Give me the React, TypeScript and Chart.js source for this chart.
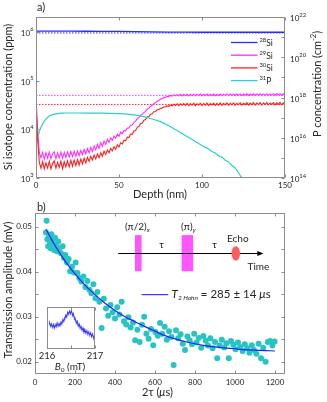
import React, { useEffect, useRef } from "react";
import { Chart, registerables } from "chart.js";

Chart.register(...registerables);

const FAMILY = "Lato, 'Open Sans', 'DejaVu Sans', sans-serif";
const f = (size: number, style = "") => `${style} ${size}px ${FAMILY}`.trim();
const TEXT = "#262626";
const FRAME = "#8c8c8c";

// ---------------- Panel a data ----------------
const depthNm = Array.from({ length: 151 }, (_, i) => i);
const depthTicks = [0, 50, 100, 150];

const si29 = [
  52000, 9500, 3300, 2600, 3350, 2450, 3300, 2550, 3400, 2500,
  3200, 3450, 2500, 3300, 2600, 3400, 2550, 3350, 2650, 3450,
  2700, 3500, 2750, 3550, 2800, 3600, 2900, 3700, 3000, 3850,
  3150, 4000, 3300, 4250, 3500, 4550, 3800, 4900, 4100, 5300,
  4450, 5700, 4900, 6200, 5400, 6700, 6000, 7300, 6600, 8000,
  7200, 8700, 8100, 9500, 9300, 10600, 10700, 12100, 12300, 13900,
  14800, 16600, 17400, 19500, 20300, 22000, 23500, 26000, 27300, 30000,
  31200, 34000, 35000, 38000, 39000, 42000, 42800, 45600, 45500, 48000,
  47200, 49800, 48000, 51200, 48900, 52300, 48800, 52600, 49000, 52400,
  49300, 52800, 48700, 52500, 49400, 52900, 49000, 52700, 49500, 53000,
  49100, 52600, 49600, 53100, 49200, 52800, 49700, 53200, 49300, 52900,
  49800, 53300, 49400, 53000, 49900, 53400, 49500, 53100, 50000, 53500,
  49600, 53200, 50100, 53600, 49700, 53300, 50200, 53700, 49800, 53400,
  50300, 53800, 49900, 53500, 50400, 53900, 50000, 53600, 50500, 54000,
  50100, 53700, 50600, 54100, 50200, 53800, 50700, 54200, 50300, 53900,
  51000,
];

const si30 = [
  34000, 6000, 2100, 1600, 2150, 1550, 2050, 1600, 2200, 1550,
  2000, 2250, 1600, 2100, 1650, 2200, 1550, 2150, 1700, 2250,
  1700, 2300, 1750, 2350, 1800, 2400, 1850, 2450, 1950, 2550,
  2050, 2650, 2200, 2800, 2350, 2950, 2450, 3100, 2600, 3300,
  2800, 3550, 3050, 3750, 3300, 4050, 3600, 4400, 3900, 4800,
  4350, 5300, 5000, 6000, 5800, 6900, 6800, 8000, 7900, 9300,
  9500, 11000, 11400, 13100, 13500, 15400, 15900, 17900, 18400, 20400,
  20800, 23000, 23300, 25200, 25500, 27200, 27300, 28900, 28800, 30300,
  29800, 31600, 30500, 32800, 30900, 33500, 30700, 33600, 31200, 33900,
  31000, 34200, 30800, 33900, 31500, 34500, 30600, 33700, 31800, 34300,
  30900, 34000, 31400, 34600, 30800, 33800, 31700, 34700, 31000, 34100,
  31500, 34800, 31100, 34200, 31800, 34900, 31200, 34300, 31900, 35000,
  31300, 34400, 32000, 35100, 31400, 34500, 32100, 35200, 31500, 34600,
  32200, 35300, 31600, 34700, 32300, 35400, 31700, 34800, 32400, 35500,
  31800, 34900, 32500, 35600, 31900, 35000, 32600, 35700, 32000, 35100,
  32700,
];

const si28Depth = [0, 10, 20, 30, 40, 50, 60, 70, 80, 90, 100, 110, 120, 130, 140, 150];
const si28 = [
  1.05e6, 1.05e6, 1.045e6, 1.04e6, 1.035e6, 1.03e6, 1.02e6, 1.01e6, 1.0e6, 0.995e6,
  0.99e6, 0.99e6, 0.99e6, 0.99e6, 0.99e6, 0.99e6,
];

// natural-abundance reference levels (ppm), dotted
const naturalLevels = [960000, 50000, 32500];

const p31Depth = [
  1.5, 2, 3, 4, 5, 6, 7, 8, 9, 10, 12, 14, 16, 18, 20, 25, 30, 35, 40, 45, 50, 55, 60, 65,
  70, 75, 80, 85, 90, 95, 100, 102, 104, 106, 108, 110, 112, 114, 116, 118, 120, 122, 124, 126,
];
const p31 = [
  1.32e16, 2.0e16, 3.31e16, 4.79e16, 6.61e16, 8.51e16, 1.02e17, 1.2e17, 1.32e17, 1.41e17,
  1.55e17, 1.62e17, 1.66e17, 1.7e17, 1.7e17, 1.7e17, 1.66e17, 1.66e17, 1.66e17, 1.62e17,
  1.58e17, 1.48e17, 1.32e17, 1.12e17, 8.51e16, 6.31e16, 3.98e16, 2.29e16, 1.29e16, 7.24e15,
  4.17e15, 3.31e15, 2.75e15, 2.09e15, 1.74e15, 1.26e15, 1.1e15, 7.59e14, 6.31e14, 4.17e14,
  3.16e14, 1.82e14, 1.0e14, 6.0e13,
];

const isoMass = ["28", "29", "30", "31"];
const isoElem = ["Si", "Si", "Si", "P"];
const isoColors = ["#2b2bff", "#ff30ff", "#ff2020", "#2ccfcf"];

const leftDecades = [3, 4, 5, 6];
const rightDecades = [14, 15, 16, 17, 18, 19, 20, 21, 22];
const rightLabelled = [14, 16, 18, 20, 22];

// ---------------- Panel b data ----------------
const tauTicks = [0, 200, 400, 600, 800, 1000, 1200];
const ampTicks = [0.02, 0.025, 0.03, 0.035, 0.04, 0.045, 0.05];

const echoPoints: [number, number][] = [
  [55, 0.0487], [58, 0.0513], [62, 0.0472], [66, 0.0456], [70, 0.0478], [74, 0.0466],
  [78, 0.0452], [82, 0.0483], [86, 0.047], [90, 0.0461], [95, 0.0448], [100, 0.0475],
  [105, 0.0458], [110, 0.0445], [116, 0.0467], [122, 0.0452], [130, 0.0441], [138, 0.0456],
  [145, 0.043], [152, 0.0437], [160, 0.042], [168, 0.0428], [176, 0.0401], [185, 0.0411],
  [194, 0.0398], [203, 0.042], [212, 0.0397], [222, 0.0386], [232, 0.0378], [242, 0.0389],
  [252, 0.0366], [262, 0.0379], [272, 0.036], [282, 0.0352], [292, 0.0372], [302, 0.0341],
  [312, 0.0355], [322, 0.0333], [333, 0.0275], [344, 0.034], [355, 0.0318], [366, 0.0302],
  [377, 0.0326], [388, 0.031], [400, 0.0296], [411, 0.0321], [422, 0.0305], [433, 0.0333],
  [445, 0.029], [456, 0.0283], [467, 0.0299], [478, 0.0276], [490, 0.0287], [501, 0.0248],
  [512, 0.0271], [523, 0.0244], [535, 0.0282], [546, 0.03], [557, 0.0262], [568, 0.0251],
  [580, 0.0273], [591, 0.0237], [602, 0.0266], [614, 0.0258], [625, 0.0286], [636, 0.0262],
  [648, 0.0278], [659, 0.0249], [670, 0.0268], [682, 0.0255], [693, 0.0193], [705, 0.027],
  [716, 0.0252], [728, 0.0261], [739, 0.024], [750, 0.0226], [762, 0.0256], [773, 0.0248],
  [785, 0.0239], [796, 0.0262], [808, 0.0243], [819, 0.0253], [831, 0.0231], [842, 0.0257],
  [854, 0.0247], [865, 0.0236], [877, 0.0252], [888, 0.023], [900, 0.0244], [911, 0.0208],
  [923, 0.0236], [934, 0.0249], [946, 0.0232], [957, 0.0241], [969, 0.0208], [980, 0.0246],
  [992, 0.0238], [1003, 0.0228], [1015, 0.0243], [1026, 0.0233], [1038, 0.0224], [1049, 0.0239],
  [1061, 0.023], [1072, 0.022], [1084, 0.0237], [1095, 0.0226], [1107, 0.0218], [1118, 0.024],
  [1130, 0.0208], [1141, 0.0231], [1153, 0.02], [1164, 0.0244], [1176, 0.0246], [1187, 0.0236],
  [1198, 0.0245],
];

const fitX = [55, 100, 150, 200, 250, 300, 350, 400, 450, 500, 550, 600, 650, 700, 750, 800, 850, 900, 950, 1000, 1050, 1100, 1150, 1200];
const fitY = [
  0.0494, 0.0458, 0.0424, 0.0395, 0.037, 0.0349, 0.033, 0.0314, 0.03, 0.0289, 0.0278, 0.0268,
  0.0258, 0.0251, 0.0245, 0.024, 0.0236, 0.0233, 0.0231, 0.0229, 0.0227, 0.0226, 0.0225, 0.0224,
];

// pulse-sequence sketch, in the panel's own (2tau, amplitude) units
const pulseSpans: [number, number][] = [[500, 533], [733, 791]];
const pulseLevels = [0.0401, 0.0481];
const timeAxisSpan = [416, 1142];
const timeAxisLevel = 0.04405;
const echoAt = 1004;

// inset: ESR line vs B0 (mT), arbitrary units
const insetTicks = [216, 216.5, 217];
const insetLine: [number, number][] = [
  [216.05, 0.62], [216.07, 0.55], [216.09, 0.58], [216.11, 0.52], [216.13, 0.57], [216.15, 0.5],
  [216.17, 0.56], [216.19, 0.53], [216.21, 0.6], [216.23, 0.55], [216.25, 0.58], [216.27, 0.56],
  [216.29, 0.62], [216.31, 0.6], [216.33, 0.68], [216.35, 0.66], [216.37, 0.72], [216.39, 0.78],
  [216.41, 0.76], [216.43, 0.85], [216.45, 0.83], [216.47, 0.88], [216.49, 0.84], [216.51, 0.9],
  [216.53, 0.8], [216.55, 0.82], [216.57, 0.72], [216.59, 0.7], [216.61, 0.62], [216.63, 0.64],
  [216.65, 0.55], [216.67, 0.58], [216.69, 0.5], [216.71, 0.52], [216.73, 0.45], [216.75, 0.48],
  [216.77, 0.4], [216.79, 0.44], [216.81, 0.38], [216.83, 0.42], [216.85, 0.36], [216.87, 0.39],
  [216.89, 0.33], [216.91, 0.37], [216.93, 0.3], [216.95, 0.34], [216.97, 0.26], [216.99, 0.3],
];

// ---------------- helpers ----------------
type Run = { t: string; font: string; dy?: number };

function drawRuns(
  ctx: CanvasRenderingContext2D,
  runs: Run[],
  x: number,
  y: number,
  align: "left" | "center" | "right" = "left",
  rot = 0,
  color = TEXT
) {
  ctx.save();
  ctx.translate(x, y);
  if (rot) ctx.rotate(rot);
  ctx.fillStyle = color;
  ctx.textBaseline = "middle";
  ctx.textAlign = "left";
  const ws = runs.map((r) => {
    ctx.font = r.font;
    return ctx.measureText(r.t).width;
  });
  const total = ws.reduce((a, b) => a + b, 0);
  let cx = align === "left" ? 0 : align === "center" ? -total / 2 : -total;
  runs.forEach((r, i) => {
    ctx.font = r.font;
    ctx.fillText(r.t, cx, r.dy || 0);
    cx += ws[i];
  });
  ctx.restore();
}

type Marks = { axis: string; values: number[]; sides: ("top" | "bottom" | "left" | "right")[]; len?: number };

function framePlugin(marks: Marks[], fill?: string) {
  return {
    id: "frame",
    beforeDatasetsDraw(chart: any) {
      if (!fill) return;
      const { ctx, chartArea: a } = chart;
      ctx.save();
      ctx.fillStyle = fill;
      ctx.fillRect(a.left, a.top, a.width, a.height);
      ctx.restore();
    },
    afterDatasetsDraw(chart: any) {
      const { ctx, chartArea: a } = chart;
      ctx.save();
      ctx.strokeStyle = FRAME;
      ctx.lineWidth = 1;
      const L = Math.round(a.left) + 0.5;
      const T = Math.round(a.top) + 0.5;
      const R = Math.round(a.right) - 0.5;
      const B = Math.round(a.bottom) - 0.5;
      ctx.strokeRect(L, T, R - L, B - T);
      marks.forEach((m) => {
        const s = chart.scales[m.axis];
        const len = m.len ?? 3;
        ctx.beginPath();
        m.values.forEach((v) => {
          const p = Math.round(s.getPixelForValue(v)) + 0.5;
          m.sides.forEach((side) => {
            if (side === "bottom") { ctx.moveTo(p, B); ctx.lineTo(p, B - len); }
            if (side === "top") { ctx.moveTo(p, T); ctx.lineTo(p, T + len); }
            if (side === "left") { ctx.moveTo(L, p); ctx.lineTo(L + len, p); }
            if (side === "right") { ctx.moveTo(R, p); ctx.lineTo(R - len, p); }
          });
        });
        ctx.stroke();
      });
      ctx.restore();
    },
  };
}

const setTicks = (vals: number[]) => (s: any) => {
  s.ticks = vals.map((v) => ({ value: v }));
};

const noGrid = { display: false, drawTicks: false };
const noBorder = { display: false };

// ---------------- chart a ----------------
function makeChartA(canvas: HTMLCanvasElement) {
  const extras = {
    id: "aExtras",
    afterDraw(chart: any) {
      const { ctx, chartArea: a, scales } = chart;
      leftDecades.forEach((e) => {
        const y = scales.y.getPixelForValue(Math.pow(10, e));
        drawRuns(ctx, [{ t: "10", font: f(8) }, { t: String(e), font: f(5.8), dy: -3.8 }], a.left - 2.5, y + 1.3, "right");
      });
      rightLabelled.forEach((e) => {
        const y = scales.y2.getPixelForValue(Math.pow(10, e));
        drawRuns(ctx, [{ t: "10", font: f(8) }, { t: String(e), font: f(5.8), dy: -3.8 }], a.right + 5, y + 1.8, "left");
      });
      // legend
      isoMass.forEach((m, i) => {
        const y = a.top + 25.5 + i * 12.7;
        ctx.save();
        ctx.strokeStyle = isoColors[i];
        ctx.lineWidth = 1.3;
        ctx.beginPath();
        ctx.moveTo(a.right - 54, y);
        ctx.lineTo(a.right - 27.5, y);
        ctx.stroke();
        ctx.restore();
        drawRuns(ctx, [{ t: m, font: f(5.8), dy: -2.4 }, { t: isoElem[i], font: f(8.5), dy: 0.6 }], a.right - 25.5, y, "left");
      });
      // titles
      drawRuns(ctx, [{ t: "a)", font: f(11) }], 37, 7.5, "left");
      drawRuns(ctx, [{ t: "Si isotope concentration (ppm)", font: f(11) }], 8.5, 97, "center", -Math.PI / 2);
      drawRuns(
        ctx,
        [{ t: "P concentration (cm", font: f(11) }, { t: "-2", font: f(7.5), dy: -3.5 }, { t: ")", font: f(11) }],
        317,
        84,
        "center",
        -Math.PI / 2
      );
      drawRuns(ctx, [{ t: "Depth (nm)", font: f(11) }], 160, 194.5, "center");
    },
  };

  const solid = (i: number, data: { x: number; y: number }[], axis: string, order: number, width = 1.2) => ({
    label: isoMass[i] + isoElem[i],
    data,
    borderColor: isoColors[i],
    borderWidth: width,
    pointRadius: 0,
    yAxisID: axis,
    order,
  });
  const dotted = (i: number, level: number) => ({
    label: "nat" + isoMass[i],
    data: [{ x: 0, y: level }, { x: 150, y: level }],
    borderColor: isoColors[i],
    borderWidth: 1,
    borderDash: [1.5, 1.5],
    pointRadius: 0,
    yAxisID: "y",
    order: 10 + i,
  });

  return new Chart(canvas, {
    type: "line",
    data: {
      datasets: [
        solid(0, si28Depth.map((x, i) => ({ x, y: si28[i] })), "y", 1, 1.3),
        solid(1, depthNm.map((x, i) => ({ x, y: si29[i] })), "y", 3, 1.1),
        solid(2, depthNm.map((x, i) => ({ x, y: si30[i] })), "y", 2, 1.1),
        solid(3, p31Depth.map((x, i) => ({ x, y: p31[i] })), "y2", 0, 1.2),
        dotted(0, naturalLevels[0]),
        dotted(1, naturalLevels[1]),
        dotted(2, naturalLevels[2]),
      ] as any,
    },
    options: {
      responsive: false,
      animation: false,
      devicePixelRatio: 1,
      layout: { padding: { top: 17, left: 0, right: 0, bottom: 0 } },
      plugins: { legend: { display: false }, tooltip: { enabled: false } },
      elements: { line: { tension: 0 } },
      scales: {
        x: {
          type: "linear",
          min: 0,
          max: 150,
          grid: noGrid,
          border: noBorder,
          ticks: { font: { family: FAMILY, size: 8 }, color: TEXT, padding: 2.5, maxRotation: 0, autoSkip: false, callback: (v: any) => String(v) },
          afterBuildTicks: setTicks(depthTicks),
          afterFit: (s: any) => { s.height = 22; },
        },
        y: {
          type: "logarithmic",
          position: "left",
          min: 1e3,
          max: 2.04e6,
          grid: noGrid,
          border: noBorder,
          ticks: { callback: () => "", padding: 0 },
          afterBuildTicks: setTicks(leftDecades.map((e) => Math.pow(10, e))),
          afterFit: (s: any) => { s.width = 36; },
        },
        y2: {
          type: "logarithmic",
          position: "right",
          min: 1e14,
          max: 1e22,
          grid: noGrid,
          border: noBorder,
          ticks: { callback: () => "", padding: 0 },
          afterBuildTicks: setTicks(rightDecades.map((e) => Math.pow(10, e))),
          afterFit: (s: any) => { s.width = 42; },
        },
      } as any,
    },
    plugins: [
      framePlugin([
        { axis: "x", values: depthTicks, sides: ["bottom", "top"] },
        { axis: "y", values: leftDecades.map((e) => Math.pow(10, e)), sides: ["left"] },
        { axis: "y2", values: rightDecades.map((e) => Math.pow(10, e)), sides: ["right"] },
      ]),
      extras,
    ],
  } as any);
}

// ---------------- chart b ----------------
function makeChartB(canvas: HTMLCanvasElement) {
  const extras = {
    id: "bExtras",
    afterDraw(chart: any) {
      const { ctx, scales } = chart;
      const X = (v: number) => scales.x.getPixelForValue(v);
      const Y = (v: number) => scales.y.getPixelForValue(v);
      // titles
      drawRuns(ctx, [{ t: "b)", font: f(11) }], 37, 7, "left");
      drawRuns(ctx, [{ t: "Transmission amplitude (mV)", font: f(11) }], 8.5, 90, "center", -Math.PI / 2);
      drawRuns(
        ctx,
        [{ t: "2τ (", font: f(11) }, { t: "μ", font: f(11, "italic") }, { t: "s)", font: f(11) }],
        157.5,
        192,
        "center"
      );
      // pulse sequence
      ctx.save();
      ctx.fillStyle = "#ff55ff";
      pulseSpans.forEach(([x0, x1]) => {
        ctx.fillRect(X(x0), Y(pulseLevels[1]), X(x1) - X(x0), Y(pulseLevels[0]) - Y(pulseLevels[1]));
      });
      const ya = Math.round(Y(timeAxisLevel)) + 0.5;
      const xa0 = X(timeAxisSpan[0]);
      const xa1 = X(timeAxisSpan[1]);
      ctx.strokeStyle = "#000";
      ctx.lineWidth = 1;
      ctx.beginPath();
      ctx.moveTo(xa0, ya);
      ctx.lineTo(xa1 - 4, ya);
      ctx.stroke();
      ctx.fillStyle = "#000";
      ctx.beginPath();
      ctx.moveTo(xa1, ya);
      ctx.lineTo(xa1 - 6, ya - 2.6);
      ctx.lineTo(xa1 - 6, ya + 2.6);
      ctx.closePath();
      ctx.fill();
      ctx.fillStyle = "#ff5c5c";
      ctx.beginPath();
      ctx.ellipse(X(echoAt), ya, 4.2, 7.3, 0, 0, Math.PI * 2);
      ctx.fill();
      ctx.restore();
      const pulseMid0 = (pulseSpans[0][0] + pulseSpans[0][1]) / 2;
      const pulseMid1 = (pulseSpans[1][0] + pulseSpans[1][1]) / 2;
      const labelY = Y(pulseLevels[1]) - 8;
      drawRuns(ctx, [{ t: "(π/2)", font: f(10) }, { t: "x", font: f(6.5, "italic"), dy: 3 }], X(pulseMid0) - 1, labelY, "center");
      drawRuns(ctx, [{ t: "(π)", font: f(10) }, { t: "y", font: f(6.5, "italic"), dy: 3 }], X(pulseMid1) + 1, labelY, "center");
      const tauY = ya - 9;
      drawRuns(ctx, [{ t: "τ", font: f(10) }], (X(pulseSpans[0][1]) + X(pulseSpans[1][0])) / 2, tauY, "center");
      drawRuns(ctx, [{ t: "τ", font: f(10) }], (X(pulseSpans[1][1]) + X(echoAt)) / 2, tauY, "center");
      drawRuns(ctx, [{ t: "Echo", font: f(10) }], X(echoAt) + 2, ya - 14.5, "center");
      drawRuns(ctx, [{ t: "Time", font: f(10) }], xa1 - 5, ya + 13, "center");
      // legend of the fit
      const ly = Y(0.0349);
      ctx.save();
      ctx.strokeStyle = "#3b3bff";
      ctx.lineWidth = 1.2;
      ctx.beginPath();
      ctx.moveTo(X(533), ly);
      ctx.lineTo(X(666), ly);
      ctx.stroke();
      ctx.restore();
      drawRuns(
        ctx,
        [
          { t: "T", font: f(11.5, "italic") },
          { t: "2 Hahn", font: f(6.5, "italic"), dy: 3 },
          { t: " = 285 ± 14 ", font: f(11.5) },
          { t: "μ", font: f(11.5, "italic") },
          { t: "s", font: f(11.5) },
        ],
        X(683),
        ly,
        "left"
      );
    },
  };

  return new Chart(canvas, {
    type: "line",
    data: {
      datasets: [
        {
          label: "fit",
          data: fitX.map((x, i) => ({ x, y: fitY[i] })),
          borderColor: "#1f1fff",
          borderWidth: 1.2,
          pointRadius: 0,
          order: 0,
        },
        {
          label: "echo",
          data: echoPoints.map(([x, y]) => ({ x, y })),
          showLine: false,
          pointRadius: 3,
          pointBackgroundColor: "#27c4c4",
          pointBorderWidth: 0,
          order: 1,
        },
      ] as any,
    },
    options: {
      responsive: false,
      animation: false,
      devicePixelRatio: 1,
      layout: { padding: { top: 13, left: 0, right: 42, bottom: 0 } },
      plugins: { legend: { display: false }, tooltip: { enabled: false } },
      elements: { line: { tension: 0.3 } },
      scales: {
        x: {
          type: "linear",
          min: 0,
          max: 1250,
          grid: noGrid,
          border: noBorder,
          ticks: { font: { family: FAMILY, size: 8 }, color: TEXT, padding: 4, maxRotation: 0, autoSkip: false, callback: (v: any) => String(v) },
          afterBuildTicks: setTicks(tauTicks),
          afterFit: (s: any) => { s.height = 28; },
        },
        y: {
          type: "linear",
          min: 0.0173,
          max: 0.053,
          grid: noGrid,
          border: noBorder,
          ticks: {
            font: { family: FAMILY, size: 8 },
            color: TEXT,
            padding: 3,
            autoSkip: false,
            callback: (v: any) => (Math.abs(v * 100 - Math.round(v * 100)) < 1e-6 ? Number(v).toFixed(2) : ""),
          },
          afterBuildTicks: setTicks(ampTicks),
          afterFit: (s: any) => { s.width = 35; },
        },
      } as any,
    },
    plugins: [
      framePlugin([
        { axis: "x", values: tauTicks, sides: ["bottom", "top"] },
        { axis: "y", values: ampTicks, sides: ["left", "right"] },
      ]),
      extras,
    ],
  } as any);
}

// ---------------- inset ----------------
function makeInset(canvas: HTMLCanvasElement) {
  const extras = {
    id: "insetExtras",
    afterDraw(chart: any) {
      const { ctx } = chart;
      drawRuns(
        ctx,
        [{ t: "B", font: f(10, "italic") }, { t: "0", font: f(6.5), dy: 2.5 }, { t: " (mT)", font: f(10) }],
        50,
        67,
        "center"
      );
    },
  };
  return new Chart(canvas, {
    type: "line",
    data: {
      datasets: [
        {
          label: "esr",
          data: insetLine.map(([x, y]) => ({ x, y })),
          borderColor: "#3434ff",
          borderWidth: 1,
          pointStyle: "line",
          rotation: 90,
          pointRadius: 1.8,
          pointBorderColor: "#3434ff",
          pointBorderWidth: 0.8,
        },
      ] as any,
    },
    options: {
      responsive: false,
      animation: false,
      devicePixelRatio: 1,
      layout: { padding: { top: 6.5, left: 27, right: 15, bottom: 0 } },
      plugins: { legend: { display: false }, tooltip: { enabled: false } },
      elements: { line: { tension: 0 } },
      scales: {
        x: {
          type: "linear",
          min: 216,
          max: 217,
          grid: noGrid,
          border: noBorder,
          ticks: {
            font: { family: FAMILY, size: 9.5 },
            color: TEXT,
            padding: 1,
            maxRotation: 0,
            autoSkip: false,
            callback: (v: any) => (Number.isInteger(v) ? String(v) : ""),
          },
          afterBuildTicks: setTicks(insetTicks),
          afterFit: (s: any) => { s.height = 26; },
        },
        y: { type: "linear", min: 0, max: 1, display: false },
      } as any,
    },
    plugins: [framePlugin([{ axis: "x", values: insetTicks, sides: ["bottom", "top"] }], "#ffffff"), extras],
  } as any);
}

export default function App() {
  const aRef = useRef<HTMLCanvasElement>(null);
  const bRef = useRef<HTMLCanvasElement>(null);
  const iRef = useRef<HTMLCanvasElement>(null);

  useEffect(() => {
    const charts: Chart[] = [];
    if (aRef.current) charts.push(makeChartA(aRef.current));
    if (bRef.current) charts.push(makeChartB(bRef.current));
    if (iRef.current) charts.push(makeInset(iRef.current));
    return () => charts.forEach((c) => c.destroy());
  }, []);

  return (
    <div style={{ position: "fixed", left: 0, top: 0, width: 327, height: 402, background: "#ffffff", overflow: "hidden" }}>
      <canvas ref={aRef} width={327} height={200} style={{ position: "absolute", left: 0, top: 0, width: 327, height: 200 }} />
      <canvas ref={bRef} width={327} height={202} style={{ position: "absolute", left: 0, top: 200, width: 327, height: 202 }} />
      <canvas ref={iRef} width={90} height={75} style={{ position: "absolute", left: 20, top: 300, width: 90, height: 75 }} />
    </div>
  );
}
